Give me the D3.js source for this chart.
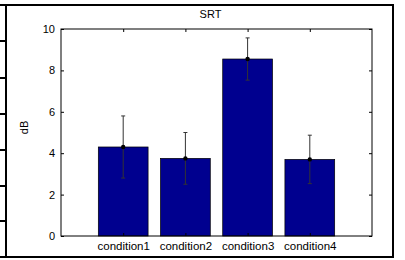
<!DOCTYPE html>
<html>
<head>
<meta charset="utf-8">
<script src="https://cdn.jsdelivr.net/npm/d3@7"></script>
<style>
  body { margin: 0; background: #fff; }
  svg { display: block; font-family: 'Liberation Sans', Arial, sans-serif; }
</style>
</head>
<body>
<svg id="svg1" width="405" height="260"></svg>
<script>
// data
categories = ['condition1', 'condition2', 'condition3', 'condition4'];
means = [4.3, 3.75, 8.55, 3.7];
errs = [1.5, 1.25, 1.02, 1.17];
yTicks = [0, 2, 4, 6, 8, 10];

margin = { top: 29, right: 33, bottom: 24, left: 61 };

document.addEventListener('DOMContentLoaded', function() {
  svg = d3.select('#svg1');
  width = +svg.attr('width');
  height = +svg.attr('height');
  drawFrame();
  drawChart();
});

// outer black frame and the little row marks on the left
function drawFrame() {
  var f = svg.append('g').style('stroke', '#000').style('stroke-width', 2);
  f.append('line').attr('x1', 0).attr('x2', 394).attr('y1', 5).attr('y2', 5);
  f.append('line').attr('x1', 0).attr('x2', 394).attr('y1', 257).attr('y2', 257);
  f.append('line').attr('x1', 6).attr('x2', 6).attr('y1', 4).attr('y2', 258);
  f.append('line').attr('x1', 393).attr('x2', 393).attr('y1', 4).attr('y2', 258);
  [41, 78, 114, 150, 186, 221].forEach(function(y) {
    f.append('line').attr('x1', 0).attr('x2', 6).attr('y1', y).attr('y2', y);
  });
}

function drawChart() {
  var innerW = width - margin.left - margin.right;
  var innerH = 207;
  var x = d3.scaleLinear().domain([0, categories.length + 1]).range([0, innerW]);
  var y = d3.scaleLinear().domain([0, 10]).range([innerH, 0]);
  var bw = x(0.8) - x(0);

  var g = svg.append('g')
    .attr('transform', `translate(${margin.left},${margin.top})`);

  g.selectAll('rect.bar')
    .data(means)
    .enter()
    .append('rect')
    .attr('class', 'bar')
    .attr('x', (d, i) => x(i + 1) - bw / 2)
    .attr('y', d => y(d))
    .attr('width', bw)
    .attr('height', d => innerH - y(d))
    .style('fill', '#00008F')
    .style('stroke', '#000')
    .style('stroke-width', 0.7);

  // error bars
  var eb = g.selectAll('g.err')
    .data(means)
    .enter()
    .append('g')
    .attr('class', 'err')
    .style('stroke', '#333')
    .style('stroke-width', 1);
  eb.append('line')
    .attr('x1', (d, i) => x(i + 1)).attr('x2', (d, i) => x(i + 1))
    .attr('y1', (d, i) => y(d + errs[i])).attr('y2', (d, i) => y(d - errs[i]));
  eb.append('line')
    .attr('x1', (d, i) => x(i + 1) - 2).attr('x2', (d, i) => x(i + 1) + 2)
    .attr('y1', (d, i) => y(d + errs[i])).attr('y2', (d, i) => y(d + errs[i]));
  eb.append('line')
    .attr('x1', (d, i) => x(i + 1) - 2).attr('x2', (d, i) => x(i + 1) + 2)
    .attr('y1', (d, i) => y(d - errs[i])).attr('y2', (d, i) => y(d - errs[i]));
  g.selectAll('circle.mean')
    .data(means)
    .enter()
    .append('circle')
    .attr('class', 'mean')
    .attr('cx', (d, i) => x(i + 1))
    .attr('cy', d => y(d))
    .attr('r', 2.2)
    .style('fill', '#000');

  // axes, ticks pointing inward
  var pos = categories.map((c, i) => i + 1);
  var left = g.append('g')
    .call(d3.axisLeft(y).tickValues(yTicks).tickSizeInner(-3).tickSizeOuter(0).tickPadding(6));
  var right = g.append('g')
    .attr('transform', `translate(${innerW},0)`)
    .call(d3.axisRight(y).tickValues(yTicks).tickSizeInner(-3).tickSizeOuter(0).tickFormat(''));
  var top = g.append('g')
    .call(d3.axisTop(x).tickValues(pos).tickSizeInner(-3).tickSizeOuter(0).tickFormat(''));
  var bottom = g.append('g')
    .attr('transform', `translate(0,${innerH})`)
    .call(d3.axisBottom(x).tickValues(pos).tickSizeInner(-3).tickSizeOuter(0).tickPadding(6)
      .tickFormat((d, i) => categories[i]));
  [left, right, top, bottom].forEach(function(a) {
    a.select('.domain').remove();
    a.selectAll('text').style('font-size', '11px').style('fill', '#000')
      .style('font-family', "'Liberation Sans', Arial, sans-serif");
  });
  bottom.selectAll('text').style('font-size', '11.5px');

  g.append('rect')
    .attr('x', 0).attr('y', 0)
    .attr('width', innerW).attr('height', innerH)
    .style('fill', 'none')
    .style('stroke', '#000')
    .style('stroke-width', 1);

  g.append('text')
    .attr('x', innerW / 2 - 6)
    .attr('y', -11)
    .attr('text-anchor', 'middle')
    .style('font-size', '11px')
    .text('SRT');
  g.append('text')
    .attr('transform', 'rotate(-90)')
    .attr('x', -innerH / 2 + 5)
    .attr('y', -33)
    .attr('text-anchor', 'middle')
    .style('font-size', '11px')
    .text('dB');
}
</script>
</body>
</html>
